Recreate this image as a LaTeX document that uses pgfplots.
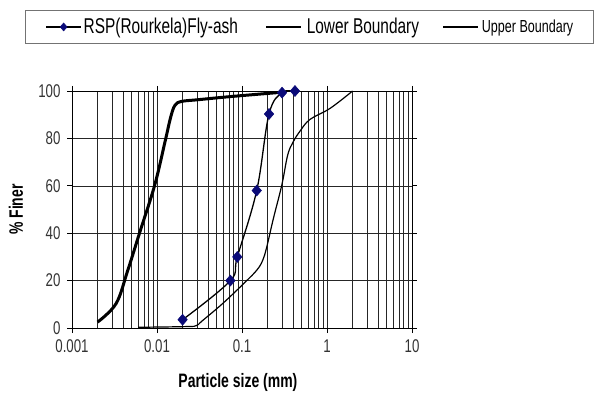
\documentclass[border=0pt]{standalone}
\usepackage{fontspec}
\setmainfont{Liberation Sans}[FakeStretch=0.72]
\usepackage{pgfplots}
\pgfplotsset{compat=1.18}
\definecolor{navymark}{RGB}{10,10,120}
\begin{document}
\begin{tikzpicture}[x=1bp,y=1bp]
\path (0,0) rectangle (594,403);
\begin{axis}[
  at={(72bp,75bp)}, anchor=south west,
  scale only axis, width=340bp, height=237bp,
  xmode=log, xmin=0.001, xmax=10, ymin=0, ymax=100,
  xtick={0.001,0.01,0.1,1,10},
  xticklabels={0.001,0.01,0.1,1,10},
  ytick={0,20,...,100},
  xmajorgrids, xminorgrids, ymajorgrids,
  grid style={black!85, line width=0.6bp},
  minor grid style={black!85, line width=0.6bp},
  axis line style={black, line width=0.8bp},
  tick align=outside, major tick length=5bp, minor tick length=0pt,
  tick style={black, line width=0.8bp},
  /pgf/number format/assume math mode=true,
  ticklabel style={font=\fontsize{18.5}{18.5}\selectfont, text=black!80},
  xticklabel style={yshift=-3bp},
  yticklabel style={xshift=-3bp},
  xlabel={\bfseries Particle size (mm)},
  ylabel={\bfseries \% Finer},
  xlabel style={font=\fontsize{19.5}{19.5}\selectfont, at={(axis description cs:0.488,-0.23)}, anchor=center},
  ylabel style={font=\fontsize{19.5}{19.5}\selectfont, at={(axis description cs:-0.165,0.5)}, anchor=center},
  legend columns=3,
  reverse legend,
  legend style={at={(axis description cs:-0.138,1.342)}, anchor=north west,
    draw=black!55, line width=1bp, inner xsep=20bp, inner ysep=8bp,
    nodes={inner sep=0pt, anchor=west},
    font=\fontsize{21.5}{21.5}\selectfont},
  legend image code/.code={\draw[mark repeat=2,mark phase=2,#1,line width=1.1bp,mark size=4bp] plot coordinates {(0bp,0bp) (17.5bp,0bp) (35bp,0bp)};},
]
% Upper Boundary (thin right curve)
\addplot[black, line width=1.2bp, smooth, tension=0.6] coordinates {
(0.006,0.3) (0.022,0.6) (0.029,1.0) (0.034,3.0) (0.06,10.5) (0.11,19.5) (0.15,24.5)
(0.175,28.5) (0.195,34) (0.234,46.2) (0.294,60.3) (0.345,73) (0.40,78.5)
(0.48,83) (0.63,88) (1.09,92.7) (2,100)};
\addlegendentry{\hspace{3bp}{\fontsize{17.5}{17.5}\selectfont Upper Boundary}}
% Lower Boundary (thick left curve)
\addplot[black, line width=3bp, smooth, tension=0.6] coordinates {
(0.002,2.5) (0.0033,10.3) (0.0045,24) (0.0063,40.6) (0.0094,60.3) (0.0125,79)
(0.0145,89) (0.0163,94) (0.0195,95.6) (0.03,96.3) (0.066,97.5) (0.15,98.6) (0.3,99.5)};
\addlegendentry{\hspace{5bp}\makebox[136bp][l]{Lower Boundary}}
% RSP (Rourkela) Fly-ash
\addplot[black, line width=1.3bp, smooth, tension=0.6, mark=diamond*, mark size=5.5bp,
  mark options={fill=navymark, draw=navymark, line width=0.5bp, xscale=1.15}] coordinates {
(0.02,3.5) (0.073,20) (0.088,30) (0.149,58) (0.208,90.3) (0.296,99.3) (0.42,100)};
\addlegendentry{\hspace{2bp}\makebox[182bp][l]{RSP(Rourkela)Fly-ash}}
\end{axis}
\end{tikzpicture}
\end{document}
